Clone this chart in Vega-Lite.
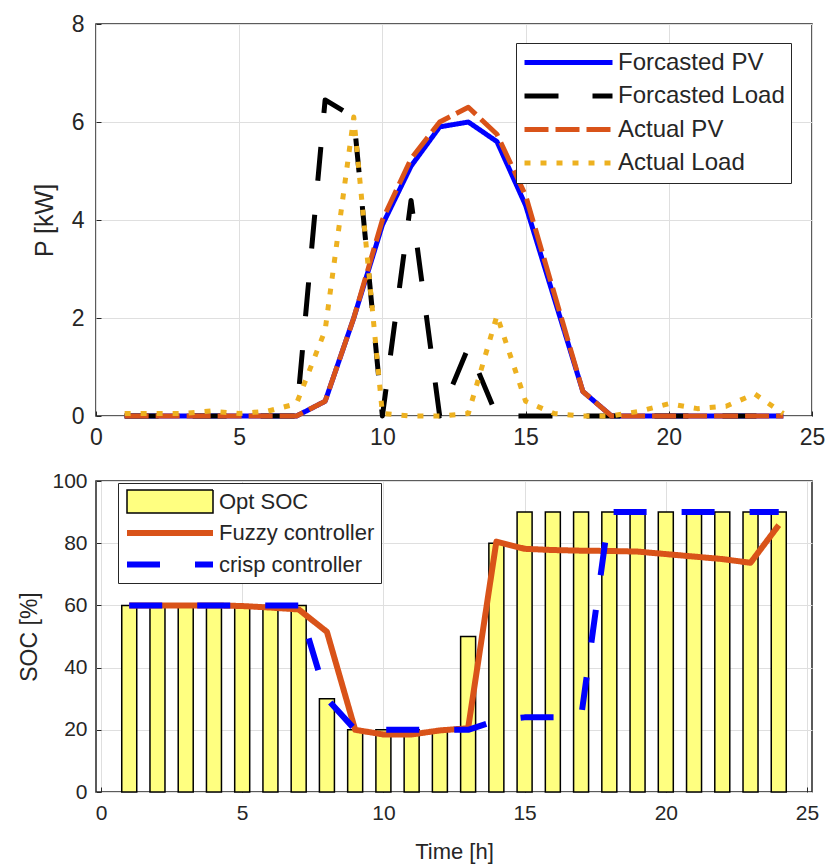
{
  "$schema": "https://vega.github.io/schema/vega-lite/v6.json",
  "background": "white",
  "padding": {"left": 18, "top": 12, "right": 5, "bottom": 5},
  "spacing": 19,
  "config": {
    "font": "Liberation Sans",
    "view": {"stroke": "#262626", "strokeWidth": 1.5},
    "axis": {
      "gridColor": "#dfdfdf", "gridWidth": 1, "domain": false, "ticks": true, "tickSize": -5, "tickColor": "#262626", "tickWidth": 1,
      "labelColor": "#262626", "titleColor": "#262626", "labelFont": "Liberation Sans",
      "titleFont": "Liberation Sans", "titleFontWeight": "normal", "labelFlush": false, "labelOverlap": false
    }
  },
  "resolve": {
    "scale": {"color": "independent", "strokeDash": "independent", "strokeWidth": "independent", "x": "independent", "y": "independent"},
    "legend": {"color": "independent", "strokeDash": "independent", "strokeWidth": "independent"}
  },
  "vconcat": [
    {
      "width": 716,
      "height": 392,
      "data": {
        "values": [
          {"h":1,"s":"Forcasted PV","v":0},{"h":2,"s":"Forcasted PV","v":0},{"h":3,"s":"Forcasted PV","v":0},{"h":4,"s":"Forcasted PV","v":0},{"h":5,"s":"Forcasted PV","v":0},{"h":6,"s":"Forcasted PV","v":0},{"h":7,"s":"Forcasted PV","v":0},{"h":8,"s":"Forcasted PV","v":0.3},{"h":9,"s":"Forcasted PV","v":2.0},{"h":10,"s":"Forcasted PV","v":3.9},{"h":11,"s":"Forcasted PV","v":5.1},{"h":12,"s":"Forcasted PV","v":5.9},{"h":13,"s":"Forcasted PV","v":6.0},{"h":14,"s":"Forcasted PV","v":5.6},{"h":15,"s":"Forcasted PV","v":4.3},{"h":16,"s":"Forcasted PV","v":2.4},{"h":17,"s":"Forcasted PV","v":0.5},{"h":18,"s":"Forcasted PV","v":0},{"h":19,"s":"Forcasted PV","v":0},{"h":20,"s":"Forcasted PV","v":0},{"h":21,"s":"Forcasted PV","v":0},{"h":22,"s":"Forcasted PV","v":0},{"h":23,"s":"Forcasted PV","v":0},{"h":24,"s":"Forcasted PV","v":0},
          {"h":1,"s":"Forcasted Load","v":0},{"h":2,"s":"Forcasted Load","v":0},{"h":3,"s":"Forcasted Load","v":0},{"h":4,"s":"Forcasted Load","v":0},{"h":5,"s":"Forcasted Load","v":0},{"h":6,"s":"Forcasted Load","v":0},{"h":7,"s":"Forcasted Load","v":0},{"h":8,"s":"Forcasted Load","v":6.45},{"h":9,"s":"Forcasted Load","v":6.1},{"h":10,"s":"Forcasted Load","v":0},{"h":11,"s":"Forcasted Load","v":4.4},{"h":12,"s":"Forcasted Load","v":0},{"h":13,"s":"Forcasted Load","v":1.4},{"h":14,"s":"Forcasted Load","v":0},{"h":15,"s":"Forcasted Load","v":0},{"h":16,"s":"Forcasted Load","v":0},{"h":17,"s":"Forcasted Load","v":0},{"h":18,"s":"Forcasted Load","v":0},{"h":19,"s":"Forcasted Load","v":0},{"h":20,"s":"Forcasted Load","v":0},{"h":21,"s":"Forcasted Load","v":0},{"h":22,"s":"Forcasted Load","v":0},{"h":23,"s":"Forcasted Load","v":0},{"h":24,"s":"Forcasted Load","v":0},
          {"h":1,"s":"Actual PV","v":0},{"h":2,"s":"Actual PV","v":0},{"h":3,"s":"Actual PV","v":0},{"h":4,"s":"Actual PV","v":0},{"h":5,"s":"Actual PV","v":0},{"h":6,"s":"Actual PV","v":0},{"h":7,"s":"Actual PV","v":0},{"h":8,"s":"Actual PV","v":0.3},{"h":9,"s":"Actual PV","v":2.0},{"h":10,"s":"Actual PV","v":4.0},{"h":11,"s":"Actual PV","v":5.25},{"h":12,"s":"Actual PV","v":6.0},{"h":13,"s":"Actual PV","v":6.3},{"h":14,"s":"Actual PV","v":5.75},{"h":15,"s":"Actual PV","v":4.5},{"h":16,"s":"Actual PV","v":2.5},{"h":17,"s":"Actual PV","v":0.5},{"h":18,"s":"Actual PV","v":0},{"h":19,"s":"Actual PV","v":0},{"h":20,"s":"Actual PV","v":0},{"h":21,"s":"Actual PV","v":0},{"h":22,"s":"Actual PV","v":0},{"h":23,"s":"Actual PV","v":0},{"h":24,"s":"Actual PV","v":0},
          {"h":1,"s":"Actual Load","v":0.05},{"h":2,"s":"Actual Load","v":0.05},{"h":3,"s":"Actual Load","v":0.05},{"h":4,"s":"Actual Load","v":0.1},{"h":5,"s":"Actual Load","v":0.05},{"h":6,"s":"Actual Load","v":0.1},{"h":7,"s":"Actual Load","v":0.25},{"h":8,"s":"Actual Load","v":1.75},{"h":9,"s":"Actual Load","v":6.1},{"h":10,"s":"Actual Load","v":0.05},{"h":11,"s":"Actual Load","v":0},{"h":12,"s":"Actual Load","v":0},{"h":13,"s":"Actual Load","v":0.05},{"h":14,"s":"Actual Load","v":2.05},{"h":15,"s":"Actual Load","v":0.3},{"h":16,"s":"Actual Load","v":0.05},{"h":17,"s":"Actual Load","v":0},{"h":18,"s":"Actual Load","v":0},{"h":19,"s":"Actual Load","v":0.1},{"h":20,"s":"Actual Load","v":0.25},{"h":21,"s":"Actual Load","v":0.15},{"h":22,"s":"Actual Load","v":0.2},{"h":23,"s":"Actual Load","v":0.45},{"h":24,"s":"Actual Load","v":0.05}
        ]
      },
      "mark": {"type": "line", "strokeWidth": 5, "strokeCap": "butt", "strokeJoin": "round"},
      "encoding": {
        "x": {"field": "h", "type": "quantitative", "scale": {"domain": [0, 25], "nice": false},
              "axis": {"values": [0, 5, 10, 15, 20, 25], "title": null, "labelFontSize": 23, "labelPadding": 15}},
        "y": {"field": "v", "type": "quantitative", "scale": {"domain": [0, 8], "nice": false},
              "axis": {"values": [0, 2, 4, 6, 8], "title": "P [kW]", "titleFontSize": 25, "labelFontSize": 23, "labelPadding": 17, "titlePadding": 14}},
        "color": {"field": "s", "type": "nominal",
          "scale": {"domain": ["Forcasted PV", "Forcasted Load", "Actual PV", "Actual Load"], "range": ["#0000FF", "#000000", "#D95319", "#EDB120"]},
          "legend": {"title": null, "orient": "none", "legendX": 420, "legendY": 19, "symbolType": "stroke", "symbolSize": 7744, "symbolStrokeWidth": 5, "clipHeight": 27,
                     "labelFontSize": 24, "labelColor": "#262626", "labelFont": "Liberation Sans", "strokeColor": "#262626", "fillColor": "white", "padding": 6, "rowPadding": 6.5, "labelOffset": 3, "labelLimit": 400}},
        "strokeDash": {"field": "s", "type": "nominal",
          "scale": {"domain": ["Forcasted PV", "Forcasted Load", "Actual PV", "Actual Load"], "range": [[1, 0], [34, 34], [24, 7], [6, 10]]},
          "legend": {"title": null, "orient": "none", "legendX": 420, "legendY": 19, "symbolType": "stroke", "symbolSize": 7744, "symbolStrokeWidth": 5, "clipHeight": 27,
                     "labelFontSize": 24, "labelColor": "#262626", "labelFont": "Liberation Sans", "strokeColor": "#262626", "fillColor": "white", "padding": 6, "rowPadding": 6.5, "labelOffset": 3, "labelLimit": 400}}
      }
    },
    {
      "width": 716,
      "height": 311,
      "data": {
        "values": [
          {"h":1,"c":"Opt SOC","v":60},{"h":2,"c":"Opt SOC","v":60},{"h":3,"c":"Opt SOC","v":60},{"h":4,"c":"Opt SOC","v":60},{"h":5,"c":"Opt SOC","v":60},{"h":6,"c":"Opt SOC","v":60},{"h":7,"c":"Opt SOC","v":60},{"h":8,"c":"Opt SOC","v":30},{"h":9,"c":"Opt SOC","v":20},{"h":10,"c":"Opt SOC","v":20},{"h":11,"c":"Opt SOC","v":20},{"h":12,"c":"Opt SOC","v":20},{"h":13,"c":"Opt SOC","v":50},{"h":14,"c":"Opt SOC","v":80},{"h":15,"c":"Opt SOC","v":90},{"h":16,"c":"Opt SOC","v":90},{"h":17,"c":"Opt SOC","v":90},{"h":18,"c":"Opt SOC","v":90},{"h":19,"c":"Opt SOC","v":90},{"h":20,"c":"Opt SOC","v":90},{"h":21,"c":"Opt SOC","v":90},{"h":22,"c":"Opt SOC","v":90},{"h":23,"c":"Opt SOC","v":90},{"h":24,"c":"Opt SOC","v":90},
          {"h":1,"c":"Fuzzy controller","v":60},{"h":2,"c":"Fuzzy controller","v":60},{"h":3,"c":"Fuzzy controller","v":60},{"h":4,"c":"Fuzzy controller","v":60},{"h":5,"c":"Fuzzy controller","v":59.8},{"h":6,"c":"Fuzzy controller","v":59.3},{"h":7,"c":"Fuzzy controller","v":58.7},{"h":8,"c":"Fuzzy controller","v":51.5},{"h":9,"c":"Fuzzy controller","v":20},{"h":10,"c":"Fuzzy controller","v":18.5},{"h":11,"c":"Fuzzy controller","v":18.5},{"h":12,"c":"Fuzzy controller","v":19.8},{"h":13,"c":"Fuzzy controller","v":20.5},{"h":14,"c":"Fuzzy controller","v":80.5},{"h":15,"c":"Fuzzy controller","v":78.2},{"h":16,"c":"Fuzzy controller","v":77.8},{"h":17,"c":"Fuzzy controller","v":77.6},{"h":18,"c":"Fuzzy controller","v":77.5},{"h":19,"c":"Fuzzy controller","v":77.3},{"h":20,"c":"Fuzzy controller","v":76.5},{"h":21,"c":"Fuzzy controller","v":75.7},{"h":22,"c":"Fuzzy controller","v":74.9},{"h":23,"c":"Fuzzy controller","v":73.7},{"h":24,"c":"Fuzzy controller","v":85.8},
          {"h":1,"c":"crisp controller","v":60},{"h":2,"c":"crisp controller","v":60},{"h":3,"c":"crisp controller","v":60},{"h":4,"c":"crisp controller","v":60},{"h":5,"c":"crisp controller","v":60},{"h":6,"c":"crisp controller","v":60},{"h":7,"c":"crisp controller","v":60},{"h":8,"c":"crisp controller","v":30},{"h":9,"c":"crisp controller","v":20},{"h":10,"c":"crisp controller","v":20},{"h":11,"c":"crisp controller","v":20},{"h":12,"c":"crisp controller","v":20},{"h":13,"c":"crisp controller","v":20},{"h":14,"c":"crisp controller","v":23},{"h":15,"c":"crisp controller","v":24},{"h":16,"c":"crisp controller","v":24},{"h":17,"c":"crisp controller","v":24},{"h":18,"c":"crisp controller","v":90},{"h":19,"c":"crisp controller","v":90},{"h":20,"c":"crisp controller","v":90},{"h":21,"c":"crisp controller","v":90},{"h":22,"c":"crisp controller","v":90},{"h":23,"c":"crisp controller","v":90},{"h":24,"c":"crisp controller","v":90}
        ]
      },
      "encoding": {
        "x": {"field": "h", "type": "quantitative", "scale": {"domain": [0, 25], "nice": false},
              "axis": {"values": [0, 5, 10, 15, 20, 25], "title": "Time [h]", "titleFontSize": 22, "labelFontSize": 21, "labelPadding": 15, "titlePadding": 18}},
        "y": {"field": "v", "type": "quantitative", "scale": {"domain": [0, 100], "nice": false},
              "axis": {"values": [0, 20, 40, 60, 80, 100], "title": "SOC [%]", "titleFontSize": 23, "labelFontSize": 21, "labelPadding": 14, "titlePadding": 10}}
      },
      "layer": [
        {
          "transform": [{"filter": "datum.c === 'Opt SOC'"}],
          "mark": {"type": "bar", "size": 15, "color": "#ffff80", "stroke": "#000000", "strokeWidth": 1.5}
        },
        {
          "transform": [{"filter": "datum.c !== 'Opt SOC'"}],
          "mark": {"type": "line", "strokeCap": "butt", "strokeJoin": "round"},
          "encoding": {
            "color": {"field": "c", "type": "nominal",
              "scale": {"domain": ["Opt SOC", "Fuzzy controller", "crisp controller"], "range": ["#000000", "#D95319", "#0000FF"]},
              "legend": {"title": null, "orient": "none", "legendX": 22, "legendY": 2, "symbolType": "stroke", "symbolSize": 7396, "clipHeight": 25,
                         "labelFontSize": 22, "labelColor": "#262626", "labelFont": "Liberation Sans", "strokeColor": "#262626", "fillColor": "white", "padding": 6, "rowPadding": 6.5, "labelOffset": 3, "labelLimit": 400,
                         "encode": {"symbols": {"update": {
                           "shape": {"signal": "datum.value === 'Opt SOC' ? 'M-1,-0.27H1V0.27H-1Z' : 'stroke'"},
                           "fill": {"signal": "datum.value === 'Opt SOC' ? '#ffff80' : 'transparent'"}
                         }}}}},
            "strokeDash": {"field": "c", "type": "nominal",
              "scale": {"domain": ["Opt SOC", "Fuzzy controller", "crisp controller"], "range": [[1, 0], [1, 0], [33, 35]]},
              "legend": {"title": null, "orient": "none", "legendX": 22, "legendY": 2, "symbolType": "stroke", "symbolSize": 7396, "clipHeight": 25,
                         "labelFontSize": 22, "labelColor": "#262626", "labelFont": "Liberation Sans", "strokeColor": "#262626", "fillColor": "white", "padding": 6, "rowPadding": 6.5, "labelOffset": 3, "labelLimit": 400,
                         "encode": {"symbols": {"update": {
                           "shape": {"signal": "datum.value === 'Opt SOC' ? 'M-1,-0.27H1V0.27H-1Z' : 'stroke'"},
                           "fill": {"signal": "datum.value === 'Opt SOC' ? '#ffff80' : 'transparent'"}
                         }}}}},
            "strokeWidth": {"field": "c", "type": "nominal",
              "scale": {"type": "ordinal", "domain": ["Opt SOC", "Fuzzy controller", "crisp controller"], "range": [1.5, 6, 6]},
              "legend": {"title": null, "orient": "none", "legendX": 22, "legendY": 2, "symbolType": "stroke", "symbolSize": 7396, "clipHeight": 25,
                         "labelFontSize": 22, "labelColor": "#262626", "labelFont": "Liberation Sans", "strokeColor": "#262626", "fillColor": "white", "padding": 6, "rowPadding": 6.5, "labelOffset": 3, "labelLimit": 400,
                         "encode": {"symbols": {"update": {
                           "shape": {"signal": "datum.value === 'Opt SOC' ? 'M-1,-0.27H1V0.27H-1Z' : 'stroke'"},
                           "fill": {"signal": "datum.value === 'Opt SOC' ? '#ffff80' : 'transparent'"}
                         }}}}}
          }
        }
      ]
    }
  ]
}
